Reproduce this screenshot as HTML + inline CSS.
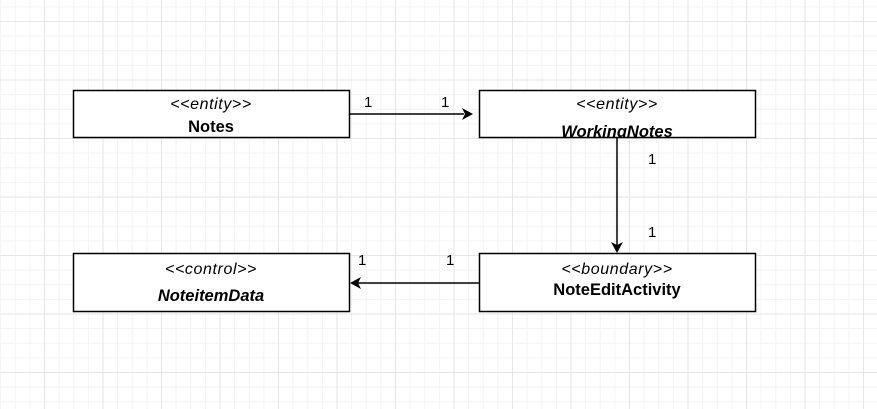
<!DOCTYPE html>
<html><head><style>
html,body{margin:0;padding:0;}
body{width:877px;height:409px;overflow:hidden;background:#fff;
background-image:
linear-gradient(to right,#e6e6e6 1px,transparent 1px),
linear-gradient(to bottom,#e6e6e6 1px,transparent 1px),
linear-gradient(to right,#f3f3f3 1px,transparent 1px),
linear-gradient(to bottom,#f3f3f3 1px,transparent 1px);
background-size:58.5px 58.5px,58.5px 58.5px,14.625px 14.625px,14.625px 14.625px;
background-position:44px 21px,44px 21px,44px 21px,44px 21px;}
svg{position:absolute;left:0;top:0;}
text{font-family:"Liberation Sans",Arial,sans-serif;fill:#000;}
</style></head><body>
<svg width="877" height="409" viewBox="0 0 877 409">
<defs><clipPath id="c1"><rect x="479" y="90" width="276" height="47"/></clipPath></defs>
<g stroke="#000" stroke-width="1.5" fill="#fff">
<rect x="73.5" y="90.5" width="276" height="47"/>
<rect x="479.5" y="90.5" width="276" height="47"/>
<rect x="73.5" y="253.5" width="276" height="58"/>
<rect x="479.5" y="253.5" width="276" height="58"/>
</g>
<g stroke="#000" stroke-width="1.5" fill="none">
<line x1="350" y1="114" x2="464" y2="114"/>
<line x1="617" y1="138" x2="617" y2="245"/>
<line x1="479" y1="283" x2="358" y2="283"/>
</g>
<g fill="#000">
<path d="M473,114 L462,108 L465,114 L462,120 Z"/>
<path d="M617,253 L611,242 L617,245 L623,242 Z"/>
<path d="M350,283 L361,277 L358,283 L361,289 Z"/>
</g>
<g font-size="16" font-style="italic" text-anchor="middle" letter-spacing="0.6">
<text x="211" y="109">&lt;&lt;entity&gt;&gt;</text>
<text x="617" y="109">&lt;&lt;entity&gt;&gt;</text>
<text x="211" y="274">&lt;&lt;control&gt;&gt;</text>
<text x="617" y="274">&lt;&lt;boundary&gt;&gt;</text>
</g>
<g font-size="16.5" font-weight="bold" text-anchor="middle">
<text x="211" y="132">Notes</text>
<text x="617" y="137" font-style="italic" clip-path="url(#c1)">WorkingNotes</text>
<text x="211" y="301" font-style="italic">NoteitemData</text>
<text x="617" y="295">NoteEditActivity</text>
</g>
<g font-size="15">
<text x="364" y="107">1</text>
<text x="441" y="107">1</text>
<text x="648" y="164">1</text>
<text x="648" y="237">1</text>
<text x="358" y="265">1</text>
<text x="446" y="265">1</text>
</g>
</svg>
</body></html>
